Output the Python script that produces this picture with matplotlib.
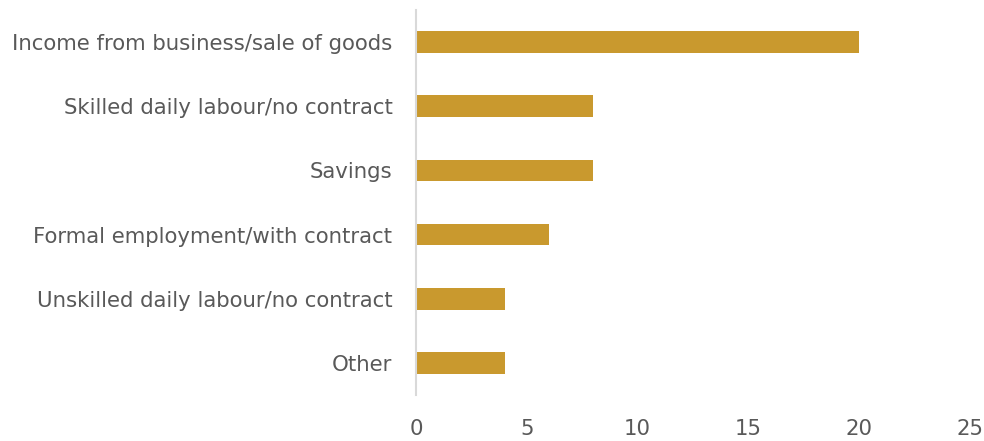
import matplotlib
matplotlib.use("Agg")
import matplotlib.pyplot as plt

categories = [
    "Income from business/sale of goods",
    "Skilled daily labour/no contract",
    "Savings",
    "Formal employment/with contract",
    "Unskilled daily labour/no contract",
    "Other",
]
values = [20, 8, 8, 6, 4, 4]
x_ticks = [0, 5, 10, 15, 20, 25]

plt.rcParams['font.family'] = ['DejaVu Sans']
text_color = '#595959'

fig = plt.figure(figsize=(9.84, 4.41), dpi=100)
ax = fig.add_axes([416 / 984, 1 - 395 / 441, (970 - 416) / 984, 385 / 441])

pos = list(range(len(categories)))
ax.barh(pos, values, height=0.34, color='#C9992E')
ax.set_ylim(len(categories) - 0.5, -0.5)
ax.set_xlim(0, 25)
ax.set_xticks(x_ticks)
ax.set_yticks(pos)
ax.set_yticklabels(categories)

for s in ['top', 'right', 'bottom']:
    ax.spines[s].set_visible(False)
ax.spines['left'].set_color('#D9D9D9')
ax.spines['left'].set_linewidth(1.5)
ax.tick_params(axis='both', length=0, labelsize=15.3, colors=text_color)
ax.tick_params(axis='y', pad=17)
ax.tick_params(axis='x', pad=17)

fig.savefig('out.png', dpi=100)
